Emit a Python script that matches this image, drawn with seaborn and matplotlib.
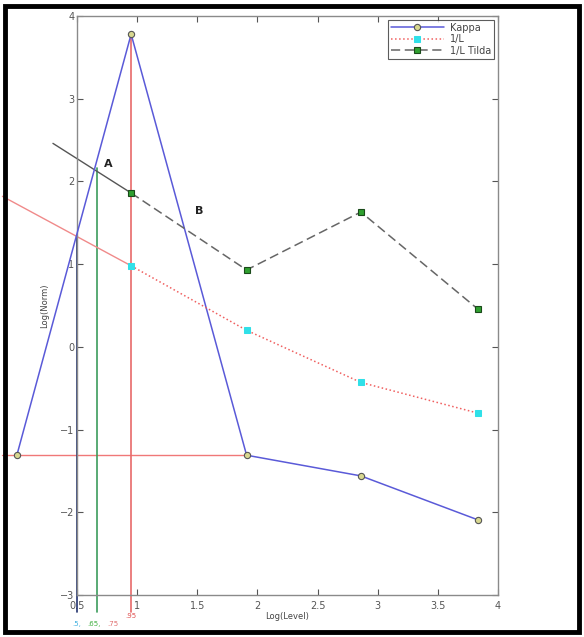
import matplotlib
matplotlib.use("Agg")
import matplotlib.pyplot as plt
from matplotlib.patches import Rectangle
import seaborn as sns
import pandas as pd

# ---- data ----
kappa_x = [0.0, 0.95, 1.91, 2.86, 3.83]
kappa_y = [-1.31, 3.78, -1.31, -1.56, -2.09]

level_x = [0.95, 1.91, 2.86, 3.83]
inv_l = [0.98, 0.20, -0.43, -0.80]
inv_l_tilda = [1.86, 0.93, 1.63, 0.46]

# extension segments
ext_invl_x = [-0.12, 0.95]
ext_invl_y = [1.82, 0.98]
ext_tilda_x = [0.30, 0.95]
ext_tilda_y = [2.46, 1.86]

# guide lines
vline_x = [0.5, 0.667, 0.95]
vline_top = [1.35, 2.16, 3.78]
vline_bottom = -3.2
hline_y = -1.31
hline_x = [-0.12, 1.91]

labels_pt = ["A", "B"]
labels_x = [0.72, 1.48]
labels_y = [2.15, 1.58]

x_ticks = [0.5, 1, 1.5, 2, 2.5, 3, 3.5, 4]
x_tick_labels = ["0.5", "1", "1.5", "2", "2.5", "3", "3.5", "4"]
y_ticks = [-3, -2, -1, 0, 1, 2, 3, 4]

sns.set_theme(style="white")
plt.rcParams["font.family"] = ["DejaVu Sans"]

fig = plt.figure(figsize=(5.84, 6.37), dpi=100)
ax = fig.add_axes([77 / 584, 1 - 595 / 637, (498 - 77) / 584, (595 - 16) / 637])

df_k = pd.DataFrame({"x": kappa_x, "y": kappa_y})
df_l = pd.DataFrame({"x": level_x, "y": inv_l})
df_t = pd.DataFrame({"x": level_x, "y": inv_l_tilda})

# guide lines
ax.plot(hline_x, [hline_y, hline_y], color="#f07878", lw=1.0, clip_on=False, zorder=1)
vcols = ["#24346e", "#3c9c5c", "#e86a6a"]
for vx, vt, vc in zip(vline_x, vline_top, vcols):
    ax.plot([vx, vx], [vt, vline_bottom], color=vc, lw=1.2, clip_on=False, zorder=1)

ax.plot(ext_invl_x, ext_invl_y, color="#f08a8a", lw=1.0, clip_on=False, zorder=1)
ax.plot(ext_tilda_x, ext_tilda_y, color="#555555", lw=1.0, clip_on=False, zorder=1)

sns.lineplot(data=df_k, x="x", y="y", ax=ax, sort=False, color="#5a5ad8", lw=1.1,
             marker="o", markersize=4.5, markerfacecolor="#d8d890", markeredgecolor="#555555",
             markeredgewidth=0.8, label="Kappa", clip_on=False, zorder=3)
sns.lineplot(data=df_l, x="x", y="y", ax=ax, sort=False, color="#f06060", lw=1.1,
             linestyle=":", marker="s", markersize=5, markerfacecolor="#30e0e8",
             markeredgecolor="#30e0e8", label="1/L", zorder=3)
sns.lineplot(data=df_t, x="x", y="y", ax=ax, sort=False, color="#666666", lw=1.1,
             linestyle=(0, (6, 3)), marker="s", markersize=5, markerfacecolor="#30a030",
             markeredgecolor="#1a4a1a", markeredgewidth=0.8, label="1/L Tilda", zorder=3)

for t, lx, ly in zip(labels_pt, labels_x, labels_y):
    ax.text(lx, ly, t, fontsize=8, fontweight="bold", color="#222222", ha="left", va="bottom")

# labels below axis
ax.text(0.95, -3.22, ".95", color="#e05050", fontsize=5, ha="center", va="top", clip_on=False)
ax.text(0.5, -3.32, ".5,", color="#40b0e0", fontsize=5, ha="center", va="top", clip_on=False)
ax.text(0.64, -3.32, ".65,", color="#40b040", fontsize=5, ha="center", va="top", clip_on=False)
ax.text(0.80, -3.32, ".75", color="#e07070", fontsize=5, ha="center", va="top", clip_on=False)

ax.set_xlim(0.5, 4)
ax.set_ylim(-3, 4)
ax.set_xticks(x_ticks)
ax.set_xticklabels(x_tick_labels)
ax.set_yticks(y_ticks)
ax.tick_params(direction="in", length=4, width=0.8, colors="#555555", labelsize=7,
               top=True, right=True, bottom=True, left=True, pad=2)
ax.tick_params(axis="x", pad=4)
for s in ax.spines.values():
    s.set_color("#8a8a8a")
    s.set_linewidth(1.0)
ax.set_xlabel("Log(Level)", fontsize=6, color="#444444", labelpad=1)
ax.set_ylabel("Log(Norm)", fontsize=6, color="#444444", labelpad=8)

leg = ax.legend(loc="upper right", fontsize=7, frameon=True, fancybox=False,
                borderaxespad=0.4, handlelength=5.5, labelspacing=0.15,
                borderpad=0.3, handletextpad=0.6)
leg.get_frame().set_edgecolor("#333333")
leg.get_frame().set_linewidth(0.8)
for txt in leg.get_texts():
    txt.set_color("#444444")

# outer black frame
fig.patches.append(Rectangle((5 / 584, 5 / 637), (579 - 5) / 584, (631 - 5) / 637,
                             transform=fig.transFigure, fill=False, edgecolor="black",
                             linewidth=3.5, zorder=10))

fig.savefig("out.png", dpi=100)
